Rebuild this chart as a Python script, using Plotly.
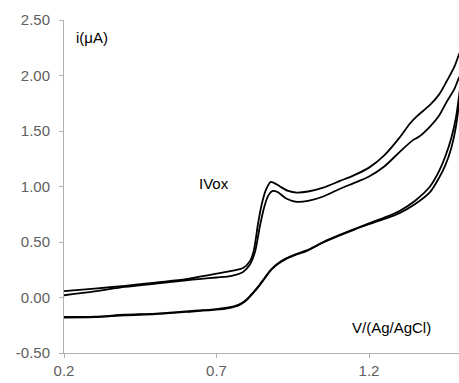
import plotly.graph_objects as go

# Forward scans (upper curves)
v_a = [0.2, 0.3, 0.4, 0.5, 0.6, 0.65, 0.7, 0.75, 0.787, 0.81, 0.822, 0.837, 0.85, 0.862, 0.877, 0.89, 0.908, 0.935, 0.963, 1.0, 1.05, 1.105, 1.15, 1.2, 1.25, 1.3, 1.335, 1.36, 1.4, 1.43, 1.455, 1.48, 1.495, 1.5]
i_a = [0.057, 0.08, 0.105, 0.135, 0.165, 0.19, 0.215, 0.24, 0.265, 0.33, 0.42, 0.68, 0.86, 0.97, 1.04, 1.03, 1.00, 0.96, 0.945, 0.955, 0.99, 1.05, 1.10, 1.17, 1.28, 1.44, 1.57, 1.64, 1.735, 1.83, 1.95, 2.08, 2.19, 2.22]

v_b = [0.2, 0.3, 0.4, 0.5, 0.6, 0.65, 0.7, 0.75, 0.787, 0.81, 0.827, 0.842, 0.857, 0.87, 0.884, 0.9, 0.93, 0.963, 1.0, 1.05, 1.105, 1.15, 1.2, 1.25, 1.3, 1.345, 1.362, 1.4, 1.43, 1.455, 1.48, 1.495, 1.5]
i_b = [0.02, 0.055, 0.095, 0.125, 0.155, 0.168, 0.18, 0.195, 0.23, 0.30, 0.42, 0.64, 0.82, 0.92, 0.96, 0.95, 0.89, 0.862, 0.87, 0.91, 0.98, 1.03, 1.09, 1.18, 1.31, 1.42, 1.445, 1.54, 1.64, 1.765, 1.88, 1.98, 2.0]

# Reverse scans (lower curves)
v_c = [1.5, 1.485, 1.47, 1.45, 1.43, 1.4, 1.35, 1.3, 1.25, 1.2, 1.15, 1.1, 1.05, 1.0, 0.96, 0.93, 0.9, 0.88, 0.86, 0.84, 0.82, 0.8, 0.78, 0.76, 0.74, 0.7, 0.6, 0.5, 0.4, 0.3, 0.2]
i_c = [1.92, 1.62, 1.44, 1.27, 1.14, 1.0, 0.87, 0.78, 0.72, 0.668, 0.615, 0.56, 0.5, 0.43, 0.39, 0.355, 0.305, 0.255, 0.185, 0.11, 0.045, -0.015, -0.055, -0.078, -0.09, -0.105, -0.125, -0.145, -0.155, -0.172, -0.175]

v_d = [1.5, 1.485, 1.47, 1.45, 1.43, 1.4, 1.35, 1.3, 1.25, 1.2, 1.15, 1.1, 1.05, 1.0, 0.96, 0.93, 0.9, 0.88, 0.86, 0.84, 0.82, 0.8, 0.78, 0.76, 0.74, 0.7, 0.6, 0.5, 0.4, 0.3, 0.2]
i_d = [1.86, 1.54, 1.35, 1.19, 1.08, 0.95, 0.84, 0.76, 0.708, 0.66, 0.61, 0.555, 0.495, 0.425, 0.385, 0.35, 0.3, 0.25, 0.18, 0.105, 0.04, -0.02, -0.06, -0.083, -0.095, -0.11, -0.13, -0.15, -0.16, -0.177, -0.18]

y_ticks = [-0.5, 0.0, 0.5, 1.0, 1.5, 2.0, 2.5]
y_ticklabels = ["-0.50", "0.00", "0.50", "1.00", "1.50", "2.00", "2.50"]
x_ticks = [0.2, 0.7, 1.2]
x_ticklabels = ["0.2", "0.7", "1.2"]

fig = go.Figure()
for vx, iy in [(v_a, i_a), (v_b, i_b), (v_c, i_c), (v_d, i_d)]:
    fig.add_trace(go.Scatter(x=vx, y=iy, mode="lines",
                             line=dict(color="black", width=1.8, shape="spline", smoothing=0.8),
                             showlegend=False, hoverinfo="skip"))

axis_font = dict(family="Liberation Sans, Arial, sans-serif", size=15, color="#606060")
ann_font = dict(family="Liberation Sans, Arial, sans-serif", size=15, color="black")
fig.update_layout(
    width=459, height=383,
    margin=dict(l=64, r=0, t=20, b=30),
    paper_bgcolor="white", plot_bgcolor="white",
    xaxis=dict(range=[0.2, 1.495], tickvals=x_ticks, ticktext=x_ticklabels,
               showgrid=False, zeroline=False, showline=True, linecolor="#b0b0b0", linewidth=1,
               ticks="outside", ticklen=4, tickcolor="#b0b0b0", tickfont=axis_font),
    yaxis=dict(range=[-0.5, 2.5], tickvals=y_ticks, ticktext=y_ticklabels,
               showgrid=False, zeroline=False, showline=True, linecolor="#b0b0b0", linewidth=1,
               ticks="outside", ticklen=4, tickcolor="#b0b0b0", tickfont=axis_font,
               ticklabelstandoff=6),
    annotations=[
        dict(x=0.233, y=2.34, xref="x", yref="y", text="i(μA)", showarrow=False,
             xanchor="left", yanchor="middle", font=ann_font),
        dict(x=0.636, y=1.03, xref="x", yref="y", text="IVox", showarrow=False,
             xanchor="left", yanchor="middle", font=ann_font),
        dict(x=1.137, y=-0.27, xref="x", yref="y", text="V/(Ag/AgCl)", showarrow=False,
             xanchor="left", yanchor="middle", font=ann_font),
    ],
)

fig.write_html("out.html")
